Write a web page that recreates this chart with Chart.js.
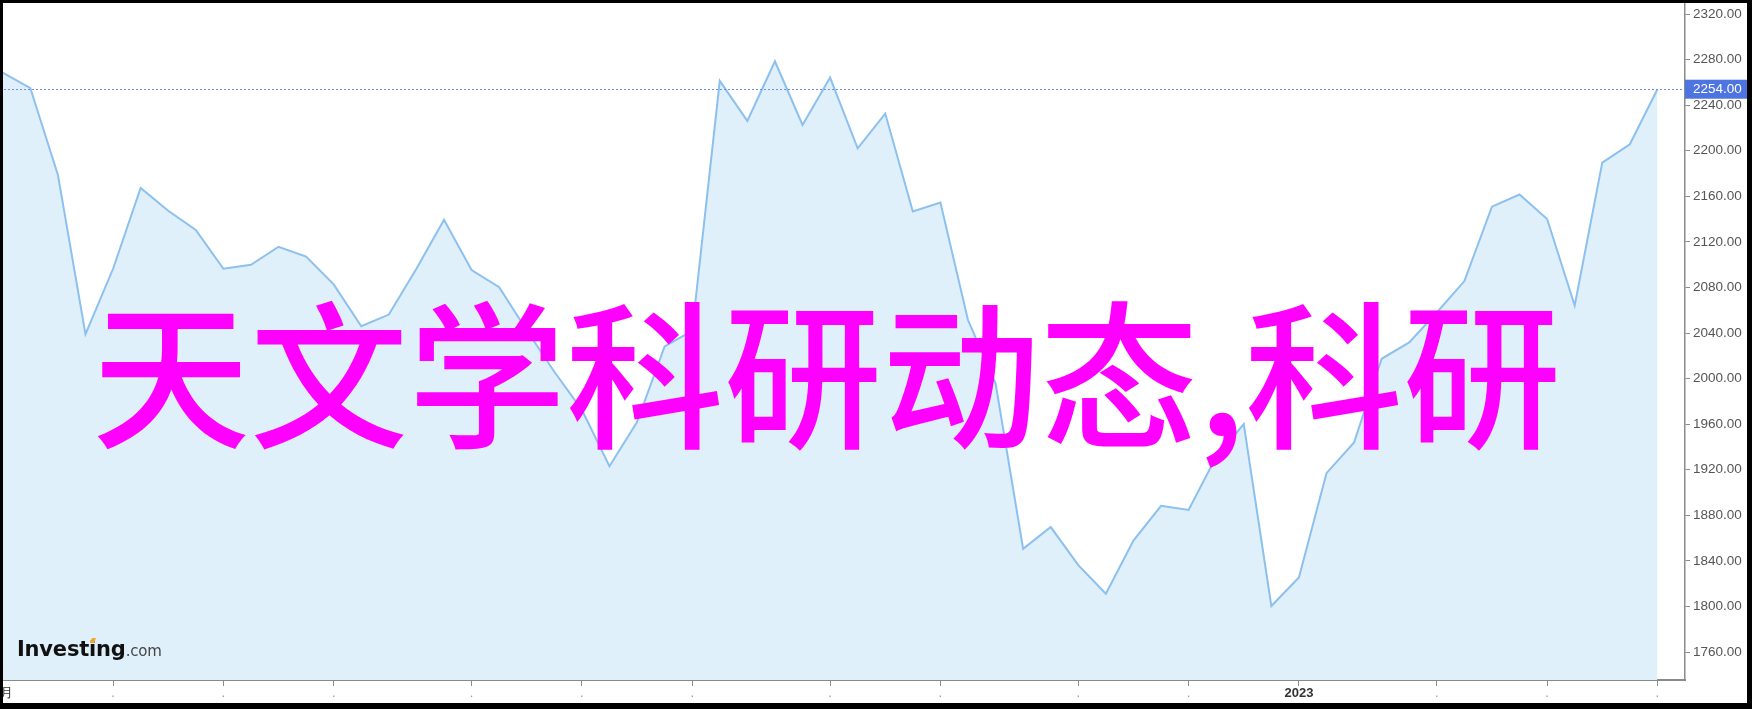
<!DOCTYPE html>
<html><head><meta charset="utf-8">
<script src="https://cdn.jsdelivr.net/npm/chart.js@4"></script>
<style>
html,body{margin:0;padding:0;background:#fff;overflow:hidden;}
#wrap{position:relative;width:1752px;height:709px;}
#c{position:absolute;left:0;top:0;}
.frame{position:absolute;background:#000;}
#title{position:absolute;left:92px;top:289px;font-family:"Noto Sans CJK SC","Noto Sans CJK JP",sans-serif;font-size:158px;font-weight:500;color:#ff00ff;white-space:nowrap;line-height:158px;}
#logo{position:absolute;left:17px;top:638px;line-height:23px;white-space:nowrap;font-family:"DejaVu Sans",sans-serif;}
#logo .inv{font-size:21px;font-weight:bold;color:#111;letter-spacing:-0.2px;}
#logo .com{font-size:15px;color:#444;letter-spacing:-0.2px;}
#logo .dot{position:absolute;left:74px;top:0px;width:4px;height:5px;background:#f5a623;transform:skewX(-20deg);}
</style></head>
<body>
<div id="wrap">
<canvas id="c" width="1752" height="709"></canvas>
<div id="logo"><span class="inv">Investing</span><span class="com">.com</span><span class="dot"></span></div>
<div id="title">天文学科研动态,科研</div>
<div class="frame" style="left:0;top:0;width:1752px;height:3px"></div>
<div class="frame" style="left:0;top:0;width:3px;height:709px"></div>
<div class="frame" style="left:1747px;top:0;width:5px;height:709px"></div>
<div class="frame" style="left:0;top:703px;width:1752px;height:6px"></div>
</div>
<script>
// weekly closing values (61 weeks)
const prices = [2268.5,2255,2178.8,2039,2096.4,2167.4,2147.3,2130.4,2096.4,2099.9,
2115.7,2107.1,2082.7,2046,2056.2,2096.4,2139.4,2095.3,2080.2,2042.5,
2006,1972.6,1923.1,1961.8,2028.2,2041.8,2261.3,2226.2,2278.5,2222.6,
2264.2,2202.1,2232.6,2146.6,2154.5,2051.4,1995.9,1850.6,1869.7,1836.3,
1811.2,1857.8,1888.3,1884.7,1931.4,1960.1,1800.4,1825.5,1917,1943.9,
2017.4,2031.8,2058,2085.6,2150.9,2161.6,2140.1,2064.1,2189.6,2205.7,2254];
// month ticks: week index and label
const monthTickIndex = [0,4,8,12,17,21,25,30,34,39,43,47,52,56,60];
const monthTickLabels = ['2月','.','.','.','.','.','.','.','.','.','.','2023','.','.','.'];
const yTickValues = [1760,1800,1840,1880,1920,1960,2000,2040,2080,2120,2160,2200,2240,2280,2320];
const lastPrice = 2254;
const xRange = [-0.1, 61];
const yRange = [1735.45, 2332.3];

const points = prices.map((v,i)=>({x:i,y:v}));

const lastLine = {
  id:'lastLine',
  afterDatasetsDraw(chart){
    const {ctx, chartArea, scales} = chart;
    const y = Math.round(scales.y.getPixelForValue(lastPrice))+0.5;
    ctx.save();
    ctx.strokeStyle='#6d8ee8';
    ctx.lineWidth=1;
    ctx.setLineDash([2,2]);
    ctx.beginPath();
    ctx.moveTo(chartArea.left,y);
    ctx.lineTo(chartArea.right,y);
    ctx.stroke();
    ctx.restore();
  },
  afterDraw(chart){
    const {ctx, chartArea, scales} = chart;
    const y = scales.y.getPixelForValue(lastPrice);
    ctx.save();
    ctx.fillStyle='#4d74e0';
    ctx.fillRect(chartArea.right, y-9.5, chart.width-chartArea.right, 19);
    ctx.fillStyle='#fff';
    ctx.font='13.5px "Liberation Sans", Arial, sans-serif';
    ctx.textBaseline='middle';
    ctx.textAlign='left';
    ctx.fillText(lastPrice.toFixed(2), chartArea.right+8, y+0.5);
    ctx.restore();
  }
};

new Chart(document.getElementById('c'), {
  type:'line',
  data:{datasets:[{
    data:points,
    borderColor:'#8cc0ee',
    borderWidth:2,
    backgroundColor:'#e0f0fa',
    fill:'start',
    pointRadius:0,
    tension:0
  }]},
  options:{
    responsive:false,
    devicePixelRatio:1,
    animation:false,
    layout:{padding:0},
    plugins:{legend:{display:false},tooltip:{enabled:false}},
    scales:{
      x:{
        type:'linear',
        min:xRange[0], max:xRange[1],
        afterBuildTicks(s){ s.ticks = monthTickIndex.map(v=>({value:v})); },
        afterFit(s){ s.height=29; s.paddingLeft=0; s.paddingRight=0; },
        grid:{display:true,drawOnChartArea:false,drawTicks:true,tickLength:6,color:'#8a8a8a',lineWidth:1},
        border:{display:true,color:'#8a8a8a',width:2},
        ticks:{
          autoSkip:false,maxRotation:0,padding:0,
          color:(c)=> monthTickLabels[monthTickIndex.indexOf(c.tick.value)]==='.'?'#999':'#333',
          font:(c)=>({family:'"Liberation Sans", Arial, sans-serif',size:13,weight:(c.tick && monthTickLabels[monthTickIndex.indexOf(c.tick.value)]==='2023')?'bold':'normal'}),
          callback:(v)=>monthTickLabels[monthTickIndex.indexOf(v)] ?? ''
        }
      },
      y:{
        type:'linear',position:'right',
        min:yRange[0], max:yRange[1],
        afterBuildTicks(s){ s.ticks = yTickValues.map(v=>({value:v})); },
        afterFit(s){ s.width=67; s.paddingTop=0; s.paddingBottom=0; },
        grid:{display:true,drawOnChartArea:false,drawTicks:true,tickLength:5,color:'#8a8a8a',lineWidth:1},
        border:{display:true,color:'#8a8a8a',width:1.5},
        ticks:{
          padding:3,color:'#555',
          font:{family:'"Liberation Sans", Arial, sans-serif',size:13.5},
          callback:(v)=>Number(v).toFixed(2)
        }
      }
    }
  },
  plugins:[lastLine]
});
</script>
</body></html>
